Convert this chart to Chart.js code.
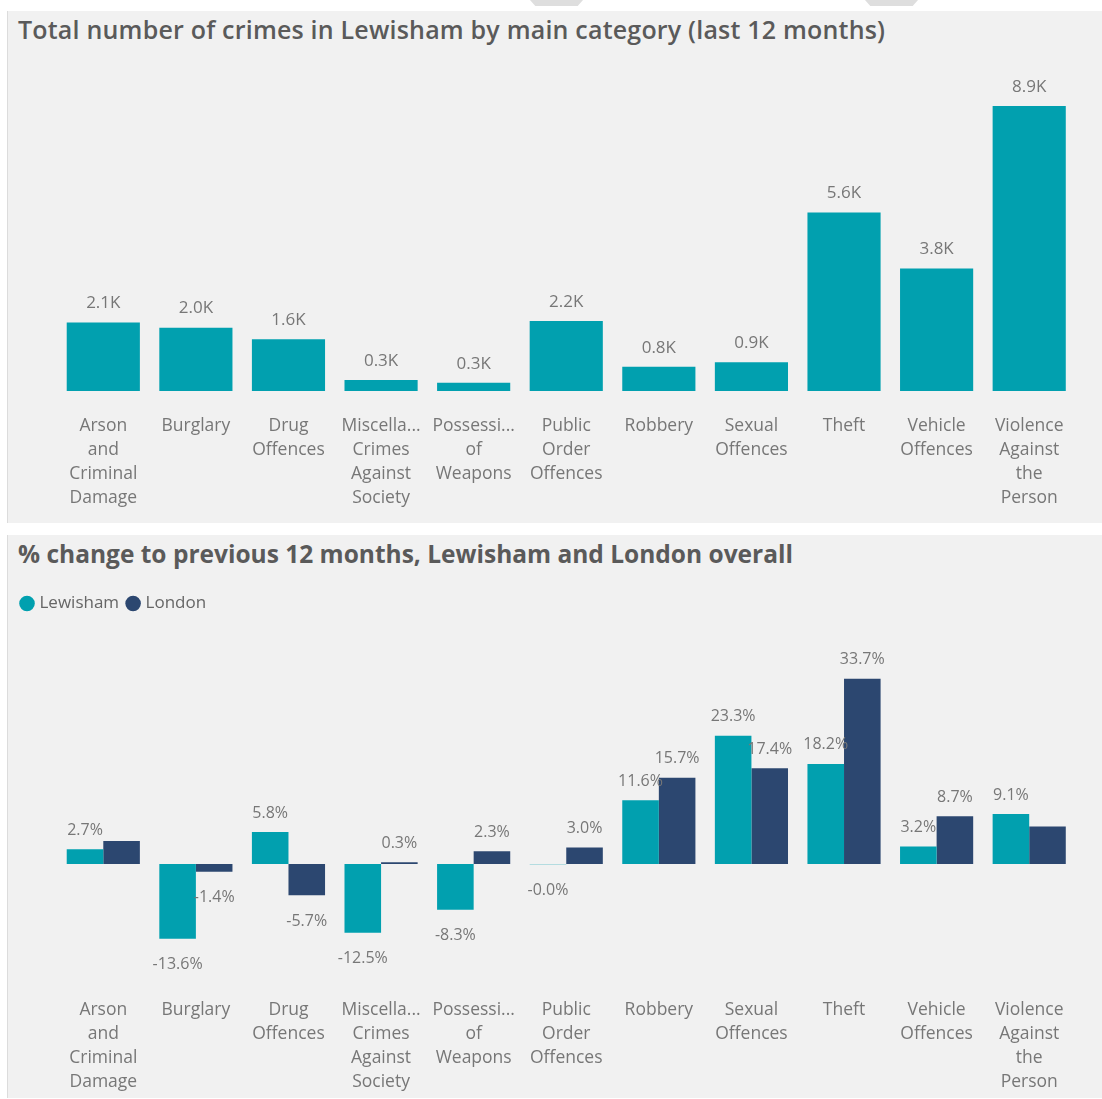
<!DOCTYPE html>
<html>
<head>
<meta charset="utf-8">
<script src="https://cdn.jsdelivr.net/npm/chart.js@4.4.1/dist/chart.umd.min.js"></script>
<style>
  body { margin: 0; background: #fff; width: 1102px; height: 1099px; position: relative; overflow: hidden; font-family: 'Open Sans', sans-serif; }
  .panel { position: absolute; left: 7px; width: 1095px; background: #f1f1f1; border-left: 1px solid #dcdcdc; box-sizing: border-box; }
  #p1 { top: 11px; height: 512px; }
  #p2 { top: 535px; height: 563px; }
  .title { position: absolute; left: 10px; color: #5a5a5a; white-space: nowrap; }
  #t1 { top: 1px; font-size: 25px; font-weight: 600; letter-spacing: 0.2px; }
  #t2 { top: 2px; font-size: 24.5px; font-weight: 700; }
  .stripe { position: absolute; top: 0; height: 6px; width: 53px; background: #dedede; clip-path: polygon(0 0, 100% 0, 90% 100%, 10% 100%); }
  canvas { position: absolute; left: 0; }
</style>
</head>
<body>
<div class="stripe" style="left:530px"></div>
<div class="stripe" style="left:865px"></div>

<div class="panel" id="p1">
  <div class="title" id="t1">Total number of crimes in Lewisham by main category (last 12 months)</div>
  <canvas id="totalChart" width="1094" height="463" style="top:49px"></canvas>
</div>
<div class="panel" id="p2">
  <div class="title" id="t2">% change to previous 12 months, Lewisham and London overall</div>
  <canvas id="changeChart" width="1094" height="518" style="top:45px"></canvas>
</div>

<script>
const categories = [
  ['Arson', 'and', 'Criminal', 'Damage'],
  ['Burglary'],
  ['Drug', 'Offences'],
  ['Miscella...', 'Crimes', 'Against', 'Society'],
  ['Possessi...', 'of', 'Weapons'],
  ['Public', 'Order', 'Offences'],
  ['Robbery'],
  ['Sexual', 'Offences'],
  ['Theft'],
  ['Vehicle', 'Offences'],
  ['Violence', 'Against', 'the', 'Person']
];

// crimes in the last 12 months
const totalCrimes = [2140, 1980, 1620, 340, 260, 2190, 760, 900, 5580, 3830, 8910];

// % change vs previous 12 months
const lewishamChange = [2.7, -13.6, 5.8, -12.5, -8.3, -0.04, 11.6, 23.3, 18.2, 3.2, 9.1];
const londonChange = [4.2, -1.4, -5.7, 0.3, 2.3, 3.0, 15.7, 17.4, 33.7, 8.7, 6.8];
const londonHiddenLabels = [0, 10];

const teal = '#01A0AF';
const navy = '#2C4770';
const labelColor = '#777777';
const tickFont = { family: "'Open Sans', sans-serif", size: 17.5 };

// draws the value above / below each bar
const valueLabels = {
  id: 'valueLabels',
  afterDatasetsDraw(chart, args, opts) {
    const ctx = chart.ctx;
    ctx.save();
    ctx.font = opts.font;
    ctx.fillStyle = labelColor;
    ctx.textAlign = 'center';
    ctx.textBaseline = 'middle';
    chart.data.datasets.forEach((ds, di) => {
      chart.getDatasetMeta(di).data.forEach((bar, i) => {
        if (ds.hiddenLabels && ds.hiddenLabels.includes(i)) return;
        const v = ds.data[i];
        const y = v >= 0 ? bar.y - opts.above : bar.y + opts.below;
        ctx.fillText(opts.format(v), bar.x, y);
      });
    });
    ctx.restore();
  }
};

// extra space under the legend
const legendGap = {
  id: 'legendGap',
  beforeInit(chart) {
    const fit = chart.legend.fit;
    chart.legend.fit = function () {
      fit.bind(chart.legend)();
      this.height += 22;
    };
  }
};

const xAxis = (height, pad) => ({
  grid: { display: false, drawTicks: false },
  border: { display: false },
  ticks: { color: labelColor, font: { ...tickFont, lineHeight: 24 / 17.5 }, padding: pad, maxRotation: 0, autoSkip: false },
  afterFit: (scale) => { scale.height = height; }
});

new Chart(document.getElementById('totalChart'), {
  type: 'bar',
  data: {
    labels: categories,
    datasets: [{
      label: 'Crimes',
      data: totalCrimes,
      backgroundColor: teal,
      barPercentage: 1,
      categoryPercentage: 0.79
    }]
  },
  options: {
    responsive: false,
    animation: false,
    devicePixelRatio: 1,
    layout: { padding: { left: 49, right: 26.5, top: 11, bottom: 0 } },
    scales: {
      x: xAxis(132, 23),
      y: { display: false, min: 0, max: 10000 }
    },
    plugins: {
      legend: { display: false },
      tooltip: { enabled: false },
      valueLabels: { font: "17px 'Open Sans', sans-serif", above: 19, below: 24, format: v => (v / 1000).toFixed(1) + 'K' }
    }
  },
  plugins: [valueLabels]
});

new Chart(document.getElementById('changeChart'), {
  type: 'bar',
  data: {
    labels: categories,
    datasets: [{
      label: 'Lewisham',
      data: lewishamChange,
      backgroundColor: teal,
      barPercentage: 1,
      categoryPercentage: 0.79
    }, {
      label: 'London',
      data: londonChange,
      backgroundColor: navy,
      barPercentage: 1,
      categoryPercentage: 0.79,
      hiddenLabels: londonHiddenLabels
    }]
  },
  options: {
    responsive: false,
    animation: false,
    devicePixelRatio: 1,
    layout: { padding: { left: 5, right: 26.5, top: 5, bottom: 0 } },
    scales: {
      x: xAxis(124, 24),
      y: {
        min: -20, max: 40,
        grid: { display: false, drawTicks: false },
        border: { display: false },
        ticks: { display: false },
        afterFit: (scale) => { scale.width = 44; }
      }
    },
    plugins: {
      legend: {
        position: 'top',
        align: 'start',
        labels: {
          usePointStyle: true,
          pointStyle: 'circle',
          boxWidth: 8,
          boxHeight: 11,
          padding: 10,
          color: '#666',
          font: { ...tickFont, size: 17 }
        }
      },
      tooltip: { enabled: false },
      valueLabels: { font: "16px 'Open Sans', sans-serif", above: 19, below: 26, format: v => v.toFixed(1) + '%' }
    }
  },
  plugins: [valueLabels, legendGap]
});
</script>
</body>
</html>
